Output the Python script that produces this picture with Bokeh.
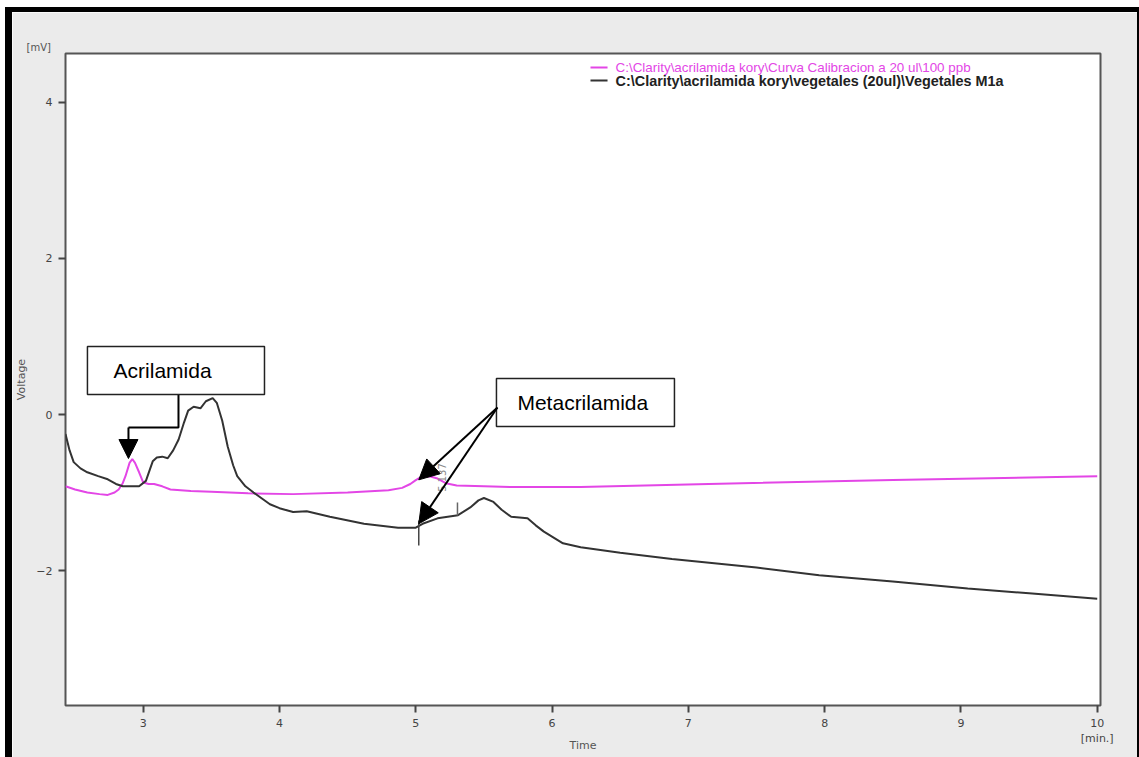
import math
from bokeh.plotting import figure
from bokeh.models import (FixedTicker, Label, BoxAnnotation, Arrow, NormalHead, Range1d)
from bokeh.embed import file_html
from bokeh.resources import INLINE

# ---- data ----
calib_time = [2.43, 2.50, 2.59, 2.68, 2.74, 2.79, 2.82, 2.85, 2.87, 2.90, 2.92, 2.94, 2.97, 3.00,
              3.04, 3.08, 3.14, 3.20, 3.35, 3.50, 3.77, 4.10, 4.50, 4.80, 4.90, 4.96, 5.00, 5.04,
              5.10, 5.16, 5.22, 5.30, 5.50, 5.72, 6.21, 7.15, 8.50, 10.0]
calib_mv = [-0.92, -0.96, -1.00, -1.02, -1.03, -1.00, -0.96, -0.88, -0.79, -0.62, -0.57, -0.62, -0.74, -0.87,
            -0.89, -0.89, -0.92, -0.96, -0.98, -0.99, -1.01, -1.02, -1.00, -0.97, -0.94, -0.89, -0.84, -0.80,
            -0.79, -0.82, -0.88, -0.91, -0.92, -0.93, -0.93, -0.89, -0.84, -0.79]

veg_time = [2.43, 2.46, 2.49, 2.54, 2.59, 2.67, 2.74, 2.80, 2.85, 2.97, 3.02, 3.05, 3.07, 3.10, 3.14,
            3.18, 3.22, 3.26, 3.30, 3.33, 3.37, 3.42, 3.46, 3.51, 3.54, 3.58, 3.62, 3.66, 3.69, 3.75,
            3.81, 3.93, 4.00, 4.10, 4.20, 4.37, 4.62, 4.87, 5.00, 5.05, 5.16, 5.31, 5.40, 5.46, 5.50,
            5.57, 5.63, 5.70, 5.82, 5.88, 5.94, 6.08, 6.21, 6.50, 6.88, 7.50, 7.96, 8.50, 9.05, 9.50, 10.0]
veg_mv = [-0.25, -0.46, -0.61, -0.69, -0.74, -0.79, -0.83, -0.89, -0.92, -0.92, -0.85, -0.70, -0.60, -0.55, -0.54,
          -0.56, -0.46, -0.32, -0.10, 0.05, 0.10, 0.08, 0.17, 0.21, 0.15, -0.08, -0.41, -0.65, -0.79, -0.92,
          -1.00, -1.15, -1.20, -1.25, -1.24, -1.31, -1.40, -1.45, -1.45, -1.40, -1.33, -1.29, -1.19, -1.10, -1.07,
          -1.12, -1.22, -1.31, -1.33, -1.42, -1.50, -1.65, -1.70, -1.77, -1.85, -1.96, -2.06, -2.14, -2.23, -2.29, -2.36]

x_ticks = [3, 4, 5, 6, 7, 8, 9, 10]
y_ticks = [-2, 0, 2, 4]

calib_name = "C:\\Clarity\\acrilamida kory\\Curva Calibracion a 20 ul\\100 ppb"
veg_name = "C:\\Clarity\\acrilamida kory\\vegetales (20ul)\\Vegetales M1a"

PINK = "#e346e6"
DARK = "#333333"
AXIS_FONT = "DejaVu Sans"
TXT_FONT = "Liberation Sans"

p = figure(width=1134, height=750, output_backend="svg", toolbar_location=None,
           x_range=Range1d(2.43, 10.024), y_range=Range1d(-3.728, 4.625),
           min_border_left=53, min_border_right=46, min_border_top=41, min_border_bottom=57)
p.styles = {"border-left": "7px solid black", "border-top": "5px solid black",
            "border-right": "2px solid black", "margin-left": "5px", "margin-top": "7px"}
p.background_fill_color = "white"
p.border_fill_color = "#ebebeb"
p.outline_line_color = "#555555"
p.outline_line_width = 2
p.grid.visible = False

p.title.text = "[mV]"
p.title.align = "left"
p.title.offset = -39
p.title.standoff = 1
p.title.text_font = AXIS_FONT
p.title.text_font_size = "10px"
p.title.text_font_style = "normal"
p.title.text_color = "#555555"

for ax in (p.xaxis[0], p.yaxis[0]):
    ax.axis_line_color = None
    ax.major_tick_in = 0
    ax.major_tick_out = 7
    ax.major_tick_line_color = "#444444"
    ax.major_tick_line_width = 2
    ax.minor_tick_line_color = None
    ax.major_label_text_font = AXIS_FONT
    ax.major_label_text_font_size = "11px"
    ax.major_label_text_color = "#444444"
    ax.axis_label_text_font = AXIS_FONT
    ax.axis_label_text_font_size = "11px"
    ax.axis_label_text_font_style = "normal"
    ax.axis_label_text_color = "#555555"

p.xaxis.ticker = FixedTicker(ticks=x_ticks)
p.yaxis.ticker = FixedTicker(ticks=y_ticks)
p.xaxis.major_label_overrides = {10: "10\n[min.]"}
p.xaxis.axis_label = "Time"
p.yaxis.axis_label = "Voltage"
p.xaxis.major_label_standoff = 4
p.xaxis.axis_label_standoff = -9
p.yaxis.major_label_standoff = 6
p.yaxis.axis_label_standoff = 5

# curves
p.line(calib_time, calib_mv, line_color=PINK, line_width=2)
p.line(veg_time, veg_mv, line_color=DARK, line_width=2)

# legend (manual, per-item colours)
p.line([6.282, 6.407], [4.446, 4.446], line_color=PINK, line_width=2)
p.line([6.282, 6.407], [4.279, 4.279], line_color=DARK, line_width=2)
p.add_layout(Label(x=6.466, y=4.446, text=calib_name, text_font=TXT_FONT, text_font_size="13.4px",
                   text_color=PINK, text_baseline="middle"))
p.add_layout(Label(x=6.466, y=4.279, text=veg_name, text_font=TXT_FONT, text_font_size="14.4px",
                   text_font_style="bold", text_color="#222222", text_baseline="middle"))

# integration marks near 5 min
p.line([5.022, 5.022], [-1.358, -1.678], line_color="#444444", line_width=1.5)
p.line([5.306, 5.306], [-1.127, -1.294], line_color="#666666", line_width=1.5)
p.add_layout(Label(x=5.196, y=-0.807, text="5.137", angle=math.pi / 2, text_font=AXIS_FONT,
                   text_font_size="10px", text_color="#888888", text_align="center",
                   text_baseline="middle"))

# Acrilamida annotation
p.add_layout(BoxAnnotation(left=2.591, right=3.890, bottom=0.256, top=0.871, fill_color="white",
                           fill_alpha=1.0, line_color="#222222", line_width=1.5, line_alpha=1.0))
p.add_layout(Label(x=2.783, y=0.564, text="Acrilamida", text_font=TXT_FONT, text_font_size="21px",
                   text_color="black", text_baseline="middle"))
p.line([3.259, 3.259, 2.892], [0.256, -0.167, -0.167], line_color="black", line_width=2)
p.add_layout(Arrow(x_start=2.892, y_start=-0.167, x_end=2.892, y_end=-0.564, line_color="black",
                   line_width=2, end=NormalHead(size=19, fill_color="black", line_color="black")))

# Metacrilamida annotation
p.add_layout(BoxAnnotation(left=5.592, right=6.898, bottom=-0.154, top=0.461, fill_color="white",
                           fill_alpha=1.0, line_color="#222222", line_width=1.5, line_alpha=1.0))
p.add_layout(Label(x=5.746, y=0.154, text="Metacrilamida", text_font=TXT_FONT, text_font_size="21px",
                   text_color="black", text_baseline="middle"))
for ty in (-0.837, -1.400):
    p.add_layout(Arrow(x_start=5.599, y_start=0.090, x_end=5.022, y_end=ty, line_color="black",
                       line_width=2, end=NormalHead(size=20, fill_color="black", line_color="black")))

open("out.html", "w").write(file_html(p, INLINE))
